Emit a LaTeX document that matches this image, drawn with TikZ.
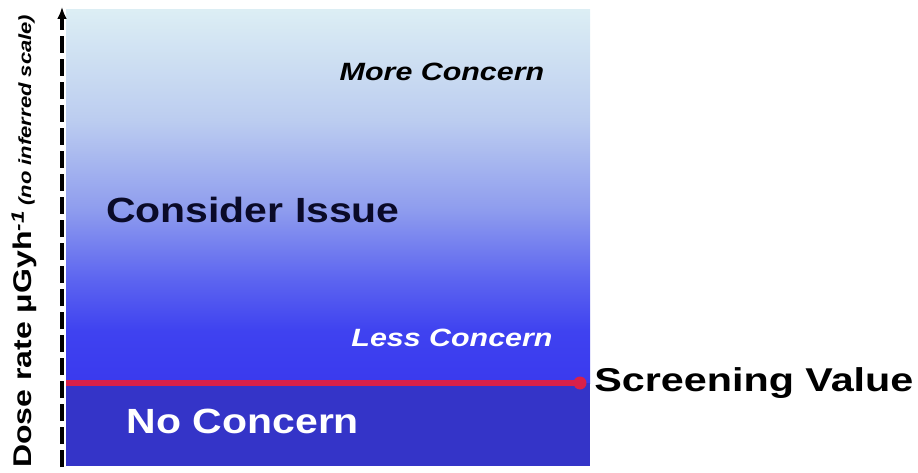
\documentclass[tikz,border=0pt]{standalone}
\usepackage{fontspec}
\usepackage{graphicx}
\setmainfont{Liberation Sans}
\usetikzlibrary{arrows.meta}
\definecolor{gA}{HTML}{3A3AEE}
\definecolor{gB}{HTML}{3F42F0}
\definecolor{gC}{HTML}{5C64F0}
\definecolor{gD}{HTML}{8E9CEE}
\definecolor{gE}{HTML}{BCCDF0}
\definecolor{gF}{HTML}{DCEEF4}
\definecolor{lowblue}{HTML}{3434C8}
\definecolor{redline}{HTML}{D8204A}
\definecolor{navy}{HTML}{0A0A28}
\pgfdeclareverticalshading{concern}{100bp}{color(0bp)=(gA); color(25bp)=(gA); color(32bp)=(gB); color(38.8bp)=(gC); color(48.2bp)=(gD); color(60.3bp)=(gE); color(75bp)=(gF); color(100bp)=(gF)}
\tikzset{
  lbl/.style={inner sep=0pt, font=\bfseries, xscale=1.17},
  big/.style={lbl, font=\fontsize{35}{35}\selectfont\bfseries},
  mid/.style={lbl, font=\fontsize{25}{25}\selectfont\bfseries\itshape, xscale=1.04},
}
\begin{document}
\begin{tikzpicture}[x=1pt,y=-1pt]
\useasboundingbox (0,0) rectangle (918,473);
% boxes
\shade[shading=concern] (66,10) rectangle (590,383);
\fill[lowblue] (66,383) rectangle (590,466);
% axis
\coordinate (axb) at (62,467);
\coordinate (axt) at (62,7);
\draw[line width=3.2pt, dash pattern=on 17pt off 6pt, -{Latex[length=12pt,width=10pt]}] (axb) -- (axt);
% screening line
\coordinate (rs) at (66,383);
\coordinate (re) at (580,383);
\node[big, anchor=west, text=black, font=\fontsize{33}{33}\selectfont\bfseries, xscale=1.07] (sv) at (594,383) {Screening Value};
\draw[redline, line width=6pt] (rs) -- (re);
\fill[redline] (re) circle (6.5pt);
% labels
\node[mid, text=black] (more) at (442,72) {More Concern};
\node[big, text=navy] (cons) at (253,210) {Consider Issue};
\node[mid, text=white] (less) at (452,338) {Less Concern};
\node[big, text=white] (none) at (243,421) {No Concern};
\node[rotate=90, anchor=base west, inner sep=0pt] (ax) at (31,468)
  {\scalebox{1}[0.8]{\fontsize{32}{32}\selectfont\bfseries Dose rate μGyh\textsuperscript{\itshape -1}\,{\fontsize{22}{22}\selectfont\itshape (no inferred scale)}}};
\end{tikzpicture}
\end{document}
